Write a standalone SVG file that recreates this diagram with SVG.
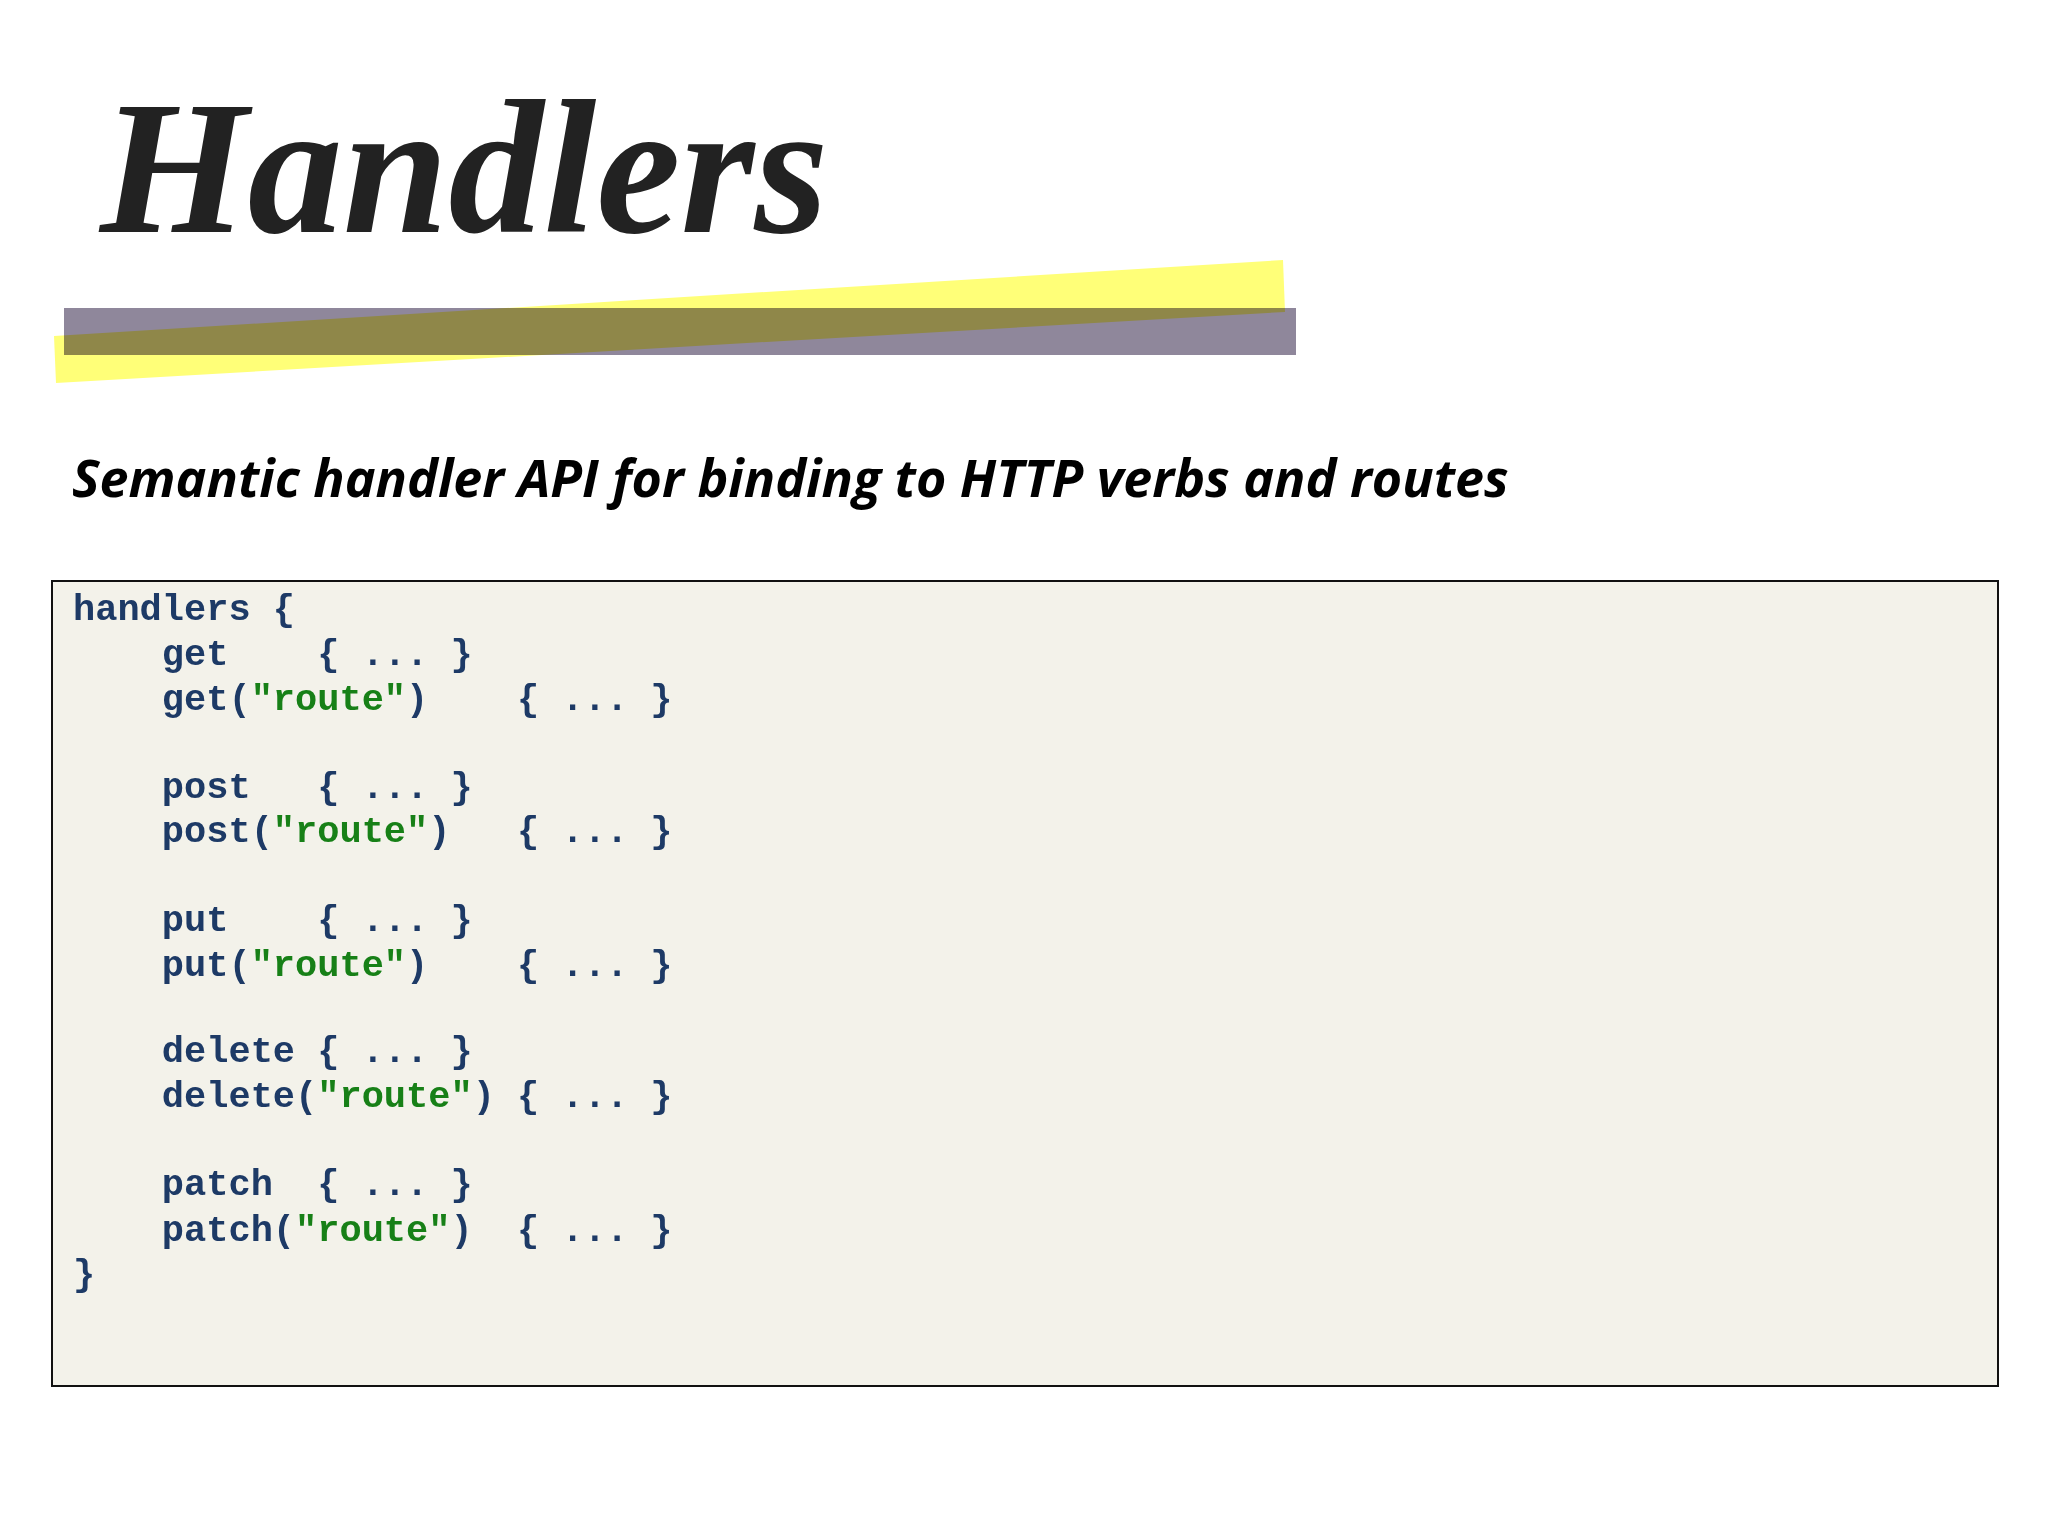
<svg xmlns="http://www.w3.org/2000/svg" width="2048" height="1536" viewBox="0 0 2048 1536">
<style>
.c{font-family:"Liberation Mono",monospace;font-weight:bold;font-size:37px;fill:#1d3a66;white-space:pre}
.s{fill:#178017}
</style>
<rect width="2048" height="1536" fill="#fff"/>
<g id="title">
<text x="100" y="232" font-family="Liberation Serif,serif" font-style="italic" font-weight="bold" font-size="190" fill="#222">Handlers</text>
<rect x="64" y="308" width="1232" height="47" fill="#8f879b"/>
<polygon points="54,336 1283,260 1285,312 56,383" fill="#ffff78" style="mix-blend-mode:multiply"/>
</g>
<text id="subtitle" x="72" y="497" font-family="Open Sans,Liberation Sans,sans-serif" font-style="italic" font-weight="bold" font-size="52" fill="#000">Semantic handler API for binding to HTTP verbs and routes</text>
<g id="code">
<rect x="52" y="581" width="1946" height="805" fill="#f3f2ea" stroke="#111" stroke-width="2"/>
<text class="c" xml:space="preserve"><tspan x="73" y="620">handlers {</tspan><tspan x="73" y="665">    get    { ... }</tspan><tspan x="73" y="710">    get(<tspan class="s">"route"</tspan>)    { ... }</tspan><tspan x="73" y="798">    post   { ... }</tspan><tspan x="73" y="842">    post(<tspan class="s">"route"</tspan>)   { ... }</tspan><tspan x="73" y="931">    put    { ... }</tspan><tspan x="73" y="976">    put(<tspan class="s">"route"</tspan>)    { ... }</tspan><tspan x="73" y="1062">    delete { ... }</tspan><tspan x="73" y="1107">    delete(<tspan class="s">"route"</tspan>) { ... }</tspan><tspan x="73" y="1195">    patch  { ... }</tspan><tspan x="73" y="1241">    patch(<tspan class="s">"route"</tspan>)  { ... }</tspan><tspan x="73" y="1285">}</tspan></text>
</g>
</svg>
